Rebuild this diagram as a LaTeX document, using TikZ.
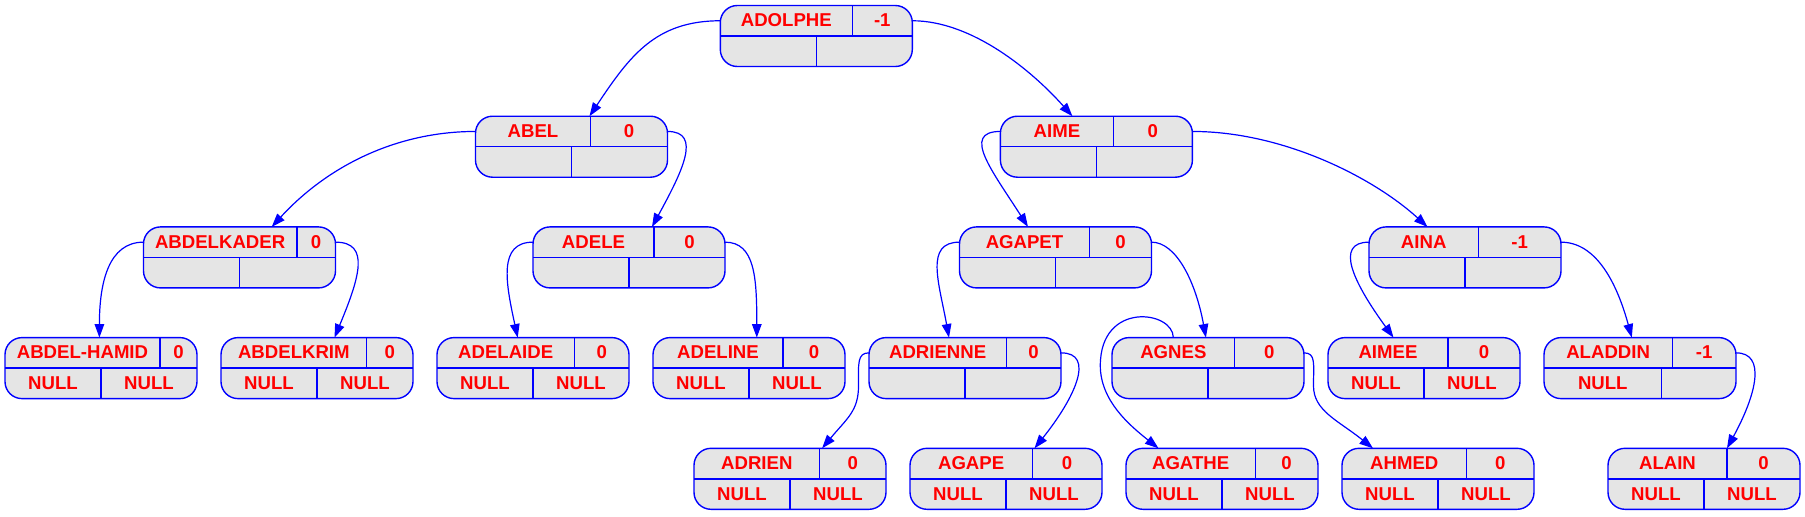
\documentclass[tikz,border=0pt]{standalone}
\usepackage{fontspec}
\setmainfont{Liberation Sans}
\usepackage{xcolor}
\definecolor{treeBlue}{HTML}{0000FF}
\definecolor{treeRed}{HTML}{FF0000}
\definecolor{treeGrey}{HTML}{E5E5E5}
\usepackage{tikz}
\usetikzlibrary{arrows.meta,calc}
\tikzset{
  treebox/.style={
    draw=treeBlue,
    fill=treeGrey,
    rounded corners=8.5pt,
    line width=0.7pt,
    minimum width=96pt,
    minimum height=30.5pt,
    inner sep=0pt,
    outer sep=0pt
  },
  treetext/.style={
    text=treeRed,
    font=\fontsize{9.3}{10}\selectfont\bfseries,
    inner sep=0pt,
    text height=6.6pt,
    text depth=0pt
  },
  treesplit/.style={
    draw=treeBlue,
    line width=0.7pt
  },
  treeedge/.style={
    draw=treeBlue,
    line width=0.6pt,
    -{Triangle[length=6.8pt,width=4.8pt]}
  }
}
% record: id, left, top, name, value, name cell width, low left, low right, low split
\newcommand{\treerecord}[9]{%
  \node[treebox,anchor=north west] (#1) at (#2,#3) {};
  \coordinate (#1-l) at ($(#1.north west)+(0,15.25)$);
  \coordinate (#1-r) at ($(#1.north east)+(0,15.25)$);
  \draw[treesplit] (#1.west) -- (#1.east);
  \draw[treesplit] ($(#1.north west)+(#6,0)$) -- ($(#1.west)+(#6,0)$);
  \draw[treesplit] ($(#1.west)+(#9,0)$) -- ($(#1.south west)+(#9,0)$);
  \node[treetext] (#1-n) at ($(#1.north west)+({#6/2},14.6)$) {#4};
  \node[treetext] (#1-v) at ($(#1.north west)+({(#6+192)/2},14.6)$) {#5};
  \node[treetext] (#1-a) at ($(#1.north west)+({#9/2},45.2)$) {#7};
  \node[treetext] (#1-b) at ($(#1.north west)+({(#9+192)/2},45.2)$) {#8};
}

\begin{document}
\begin{tikzpicture}[x=0.5pt,y=-0.5pt]
  \useasboundingbox (0,0) rectangle (1805,516);
  \treerecord{adolphe}{720.3}{5.5}{ADOLPHE}{-1}{132}{}{}{96}
  \treerecord{abel}{475.5}{116.2}{ABEL}{0}{115}{}{}{96}
  \treerecord{aime}{1000.4}{116.2}{AIME}{0}{113}{}{}{96}
  \treerecord{abdelkader}{143.5}{226.9}{ABDELKADER}{0}{153.3}{}{}{96}
  \treerecord{adele}{533}{226.9}{ADELE}{0}{121}{}{}{96}
  \treerecord{agapet}{959.5}{226.9}{AGAPET}{0}{130}{}{}{96}
  \treerecord{aina}{1369}{226.9}{AINA}{-1}{109.4}{}{}{96}
  \treerecord{abdelhamid}{5}{337.6}{ABDEL-HAMID}{0}{155}{NULL}{NULL}{96}
  \treerecord{abdelkrim}{221}{337.6}{ABDELKRIM}{0}{145.7}{NULL}{NULL}{96}
  \treerecord{adelaide}{437}{337.6}{ADELAIDE}{0}{137.4}{NULL}{NULL}{96}
  \treerecord{adeline}{653}{337.6}{ADELINE}{0}{130}{NULL}{NULL}{96}
  \treerecord{adrienne}{869}{337.6}{ADRIENNE}{0}{137.3}{}{}{96}
  \treerecord{agnes}{1112}{337.6}{AGNES}{0}{122.7}{}{}{96}
  \treerecord{aimee}{1328}{337.6}{AIMEE}{0}{120}{NULL}{NULL}{96}
  \treerecord{aladdin}{1544}{337.6}{ALADDIN}{-1}{128.3}{NULL}{}{117.6}
  \treerecord{adrien}{694}{448.3}{ADRIEN}{0}{125.7}{NULL}{NULL}{96}
  \treerecord{agape}{910}{448.3}{AGAPE}{0}{122.3}{NULL}{NULL}{96}
  \treerecord{agathe}{1126}{448.3}{AGATHE}{0}{129.3}{NULL}{NULL}{96}
  \treerecord{ahmed}{1342}{448.3}{AHMED}{0}{124.6}{NULL}{NULL}{96}
  \treerecord{alain}{1608}{448.3}{ALAIN}{0}{119}{NULL}{NULL}{96}
  % links
  \draw[treeedge] (adolphe-l) .. controls +(-65,0) and +(40,-60) .. ($(abel.north west)+(114,0)$);
  \draw[treeedge] (adolphe-r) .. controls +(60,0) and +(-40,-45) .. ($(aime.north west)+(72,0)$);
  \draw[treeedge] (abel-l) .. controls +(-80,0) and +(55,-60) .. ($(abdelkader.north west)+(128.2,0)$);
  \draw[treeedge] (abel-r) .. controls +(35,0) and +(30,-55) .. ($(adele.north west)+(119,0)$);
  \draw[treeedge] (aime-l) .. controls +(-40,0) and +(-35,-55) .. ($(agapet.north west)+(68.5,0)$);
  \draw[treeedge] (aime-r) .. controls +(90,0) and +(-55,-50) .. ($(aina.north west)+(58.5,0)$);
  \draw[treeedge] (abdelkader-l) .. controls +(-35,0) and +(0,-55) .. ($(abdelhamid.north west)+(94.4,0)$);
  \draw[treeedge] (abdelkader-r) .. controls +(35,0) and +(25,-60) .. ($(abdelkrim.north west)+(113.5,0)$);
  \draw[treeedge] (adele-l) .. controls +(-35,0) and +(-12,-55) .. ($(adelaide.north west)+(80.7,0)$);
  \draw[treeedge] (adele-r) .. controls +(30,0) and +(0,-60) .. ($(adeline.north west)+(103.8,0)$);
  \draw[treeedge] (agapet-l) .. controls +(-35,0) and +(-10,-55) .. ($(adrienne.north west)+(80,0)$);
  \draw[treeedge] (agapet-r) .. controls +(25,0) and +(-10,-55) .. ($(agnes.north west)+(93.9,0)$);
  \draw[treeedge] (aina-l) .. controls +(-35,0) and +(-40,-55) .. ($(aimee.north west)+(65.5,0)$);
  \draw[treeedge] (aina-r) .. controls +(35,0) and +(-15,-55) .. ($(aladdin.north west)+(87.8,0)$);
  \draw[treeedge] (adrienne-l) .. controls +(-12,0) and +(0,-22) .. ++(-10.5,33) .. controls +(0,25) and +(25,-30) .. ($(adrien.north west)+(128.1,0)$);
  \draw[treeedge] (adrienne-r) .. controls +(35,0) and +(40,-50) .. ($(agape.north west)+(124.5,0)$);
  \draw[treeedge] ($(agnes.north west)+(61.3,0)$) .. controls +(0,-27) and +(0,-65) .. ++(-73,28) .. controls +(0,35) and +(-29,-23) .. ($(agathe.north west)+(32.5,0)$);
  \draw[treeedge] (agnes-r) .. controls +(12,0) and +(0,-22) .. ++(9.5,33) .. controls +(0,25) and +(-35,-28) .. ($(ahmed.north west)+(31,0)$);
  \draw[treeedge] (aladdin-r) .. controls +(30,0) and +(30,-55) .. ($(alain.north west)+(119,0)$);
\end{tikzpicture}
\end{document}
